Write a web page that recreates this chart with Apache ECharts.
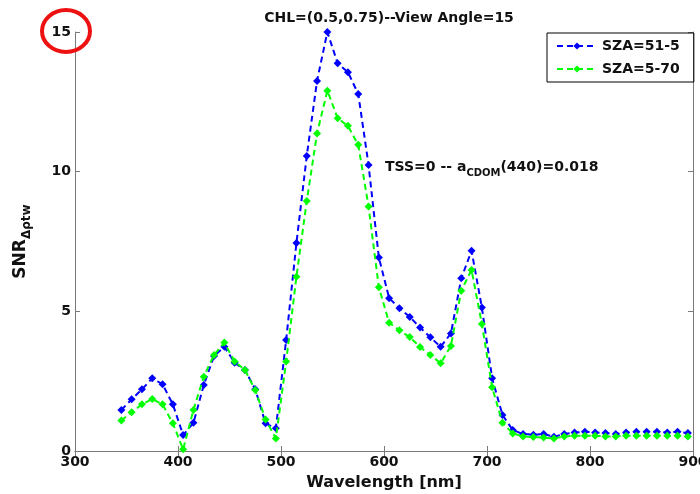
<!DOCTYPE html>
<html>
<head>
<meta charset="utf-8">
<script src="https://cdn.jsdelivr.net/npm/echarts@6/dist/echarts.min.js"></script>
<style>html,body{margin:0;padding:0;background:#fff}#c{width:700px;height:494px}</style>
</head>
<body>
<div id="c"></div>
<script>
const wavelengths = [345,355,365,375,385,395,405,415,425,435,445,455,465,475,485,495,505,515,525,535,545,555,565,575,585,595,605,615,625,635,645,655,665,675,685,695,705,715,725,735,745,755,765,775,785,795,805,815,825,835,845,855,865,875,885,895];
const sza51_5 = [1.47,1.85,2.21,2.60,2.39,1.67,0.57,1.01,2.36,3.40,3.73,3.16,2.90,2.21,0.99,0.81,3.97,7.45,10.56,13.25,15.0,13.88,13.56,12.78,10.24,6.93,5.47,5.11,4.80,4.42,4.07,3.73,4.21,6.18,7.17,5.14,2.60,1.29,0.75,0.61,0.58,0.61,0.51,0.61,0.66,0.69,0.66,0.64,0.61,0.66,0.69,0.69,0.69,0.66,0.69,0.64];
const sza5_70 = [1.09,1.39,1.67,1.86,1.67,0.99,0.06,1.47,2.66,3.44,3.88,3.20,2.90,2.18,1.13,0.45,3.20,6.24,8.95,11.37,12.90,11.91,11.64,10.96,8.75,5.86,4.59,4.32,4.08,3.72,3.44,3.14,3.76,5.74,6.48,4.55,2.28,1.01,0.63,0.52,0.50,0.48,0.45,0.52,0.55,0.55,0.55,0.52,0.52,0.55,0.55,0.55,0.55,0.55,0.55,0.52];
const seriesNames = ['SZA=51-5','SZA=5-70'];
const xTicks = {min:300, max:900, interval:100};
const yTicks = {min:0, max:15, interval:5};

const FONT = '"DejaVu Sans", sans-serif';
const chart = echarts.init(document.getElementById('c'), null, {renderer:'canvas'});
const pair = arr => wavelengths.map((w,i)=>[w,arr[i]]);
const axisLine = {show:true, lineStyle:{color:'#7a7a7a', width:1}};
const tick = {show:true, inside:true, length:5, lineStyle:{color:'#7a7a7a'}};

chart.setOption({
  animation:false,
  backgroundColor:'#fff',
  title:{text:'CHL=(0.5,0.75)--View Angle=15', left:384, top:6, textAlign:'center',
    textStyle:{fontFamily:FONT, fontWeight:'bold', fontSize:14, color:'#111'}},
  grid:{left:75, right:7, top:32, bottom:43, containLabel:false, outerBoundsMode:'none'},
  legend:{
    data:seriesNames, orient:'vertical', left:547, top:33,
    borderColor:'#000', borderWidth:1, padding:[6,14,6,9], itemGap:9,
    itemWidth:40, itemHeight:9,
    textStyle:{fontFamily:FONT, fontWeight:'bold', fontSize:14, color:'#111'}
  },
  xAxis:[
    {type:'value', min:xTicks.min, max:xTicks.max, interval:xTicks.interval,
     axisLine:axisLine, axisTick:tick, splitLine:{show:false},
     axisLabel:{fontFamily:FONT, fontWeight:'bold', fontSize:14, color:'#111', margin:4},
     name:'Wavelength [nm]', nameLocation:'middle', nameGap:24,
     nameTextStyle:{fontFamily:FONT, fontWeight:'bold', fontSize:16, color:'#111'}},
    {type:'value', position:'top', min:xTicks.min, max:xTicks.max, interval:xTicks.interval,
     axisLine:axisLine, axisTick:tick, axisLabel:{show:false}, splitLine:{show:false}}
  ],
  yAxis:[
    {type:'value', min:yTicks.min, max:yTicks.max, interval:yTicks.interval,
     axisLine:axisLine, axisTick:tick, splitLine:{show:false},
     axisLabel:{fontFamily:FONT, fontWeight:'bold', fontSize:14, color:'#111', margin:4},
     name:'{m|SNR}{s|Δρtw}', nameLocation:'middle', nameGap:42, nameRotate:90,
     nameTextStyle:{fontFamily:FONT, fontWeight:'bold', fontSize:17, color:'#111',
       rich:{m:{fontFamily:FONT, fontWeight:'bold', fontSize:17, color:'#111', verticalAlign:'middle', lineHeight:24},
             s:{fontFamily:FONT, fontWeight:'bold', fontSize:12, color:'#111', verticalAlign:'bottom', lineHeight:24, padding:[8,0,0,0]}}}},
    {type:'value', position:'right', min:yTicks.min, max:yTicks.max, interval:yTicks.interval,
     axisLine:axisLine, axisTick:tick, axisLabel:{show:false}, splitLine:{show:false}}
  ],
  series:[
    {name:seriesNames[0], type:'line', data:pair(sza51_5), symbol:'diamond', symbolSize:8,
     lineStyle:{color:'#0000ff', width:2, type:[6,4]}, itemStyle:{color:'#0000ff'}, z:3},
    {name:seriesNames[1], type:'line', data:pair(sza5_70), symbol:'diamond', symbolSize:8,
     lineStyle:{color:'#00ff00', width:2, type:[6,4]}, itemStyle:{color:'#00ff00'}, z:4}
  ],
  graphic:[
    {type:'text', left:385, top:158, style:{
      text:'{a|TSS=0 -- a}{s|CDOM}{a|(440)=0.018}',
      rich:{a:{fontFamily:FONT, fontWeight:'bold', fontSize:14, fill:'#111', verticalAlign:'middle', lineHeight:22},
            s:{fontFamily:FONT, fontWeight:'bold', fontSize:10, fill:'#111', verticalAlign:'bottom', lineHeight:22, padding:[10,0,0,0]}}}},
    {type:'ellipse', shape:{cx:66, cy:31, rx:24, ry:21}, style:{fill:'none', stroke:'#ee1111', lineWidth:4}, z:100}
  ]
});
</script>
</body>
</html>
